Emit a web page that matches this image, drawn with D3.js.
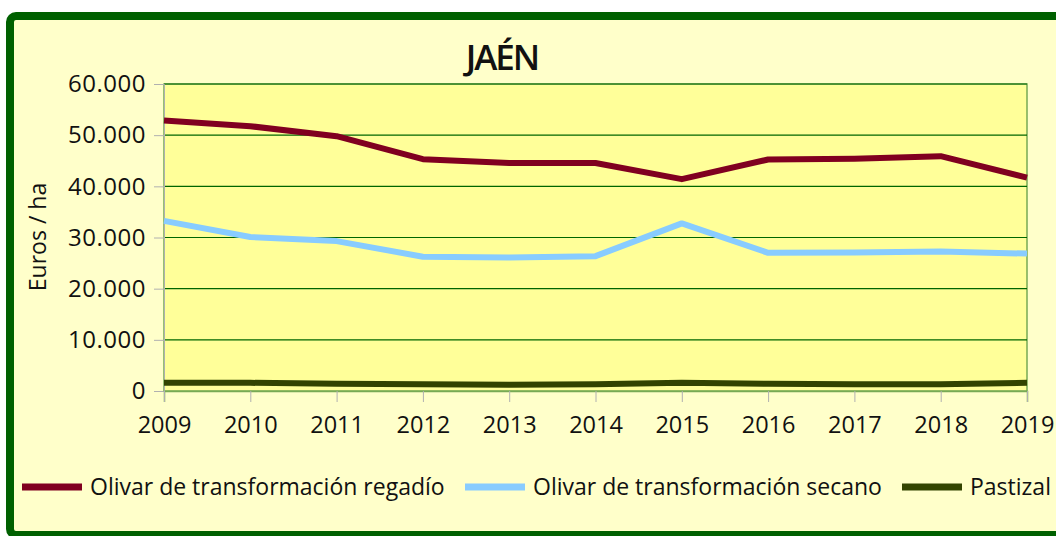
<!DOCTYPE html>
<meta charset="utf-8">
<head>
<title>JAÉN - Euros / ha</title>
<script type="text/javascript" src="https://cdn.jsdelivr.net/npm/d3@7"></script>
<style>
    body { margin: 0; background: #fff; }
    text { font-family: "Open Sans", "DejaVu Sans", sans-serif; fill: #111; }
</style>
</head>
<body>
<div id="chart"></div>
<script>
    // data
    var years = [2009, 2010, 2011, 2012, 2013, 2014, 2015, 2016, 2017, 2018, 2019];
    var regadio = [52850, 51750, 49800, 45300, 44550, 44550, 41400, 45250, 45400, 45900, 41700];
    var secano = [33250, 30100, 29300, 26250, 26100, 26350, 32750, 27000, 27050, 27250, 26850];
    var pastizal = [1600, 1600, 1400, 1300, 1200, 1300, 1600, 1400, 1300, 1300, 1600];
    var seriesNames = ["Olivar de transformación regadío", "Olivar de transformación secano", "Pastizal"];
    var yTicks = [0, 10000, 20000, 30000, 40000, 50000, 60000];

    var width = 1056, height = 536;
    var margin = {top: 84, right: 29, bottom: 145, left: 164};

    var svg = d3.select("#chart").append("svg")
        .attr("width", width)
        .attr("height", height);

    // outer frame
    svg.append("rect")
        .attr("x", 10).attr("y", 16)
        .attr("width", 1100).attr("height", 519)
        .attr("rx", 6)
        .attr("fill", "#ffffca")
        .attr("stroke", "#006000")
        .attr("stroke-width", 8);

    var x = d3.scaleLinear()
        .domain([2009, 2019])
        .range([margin.left, width - margin.right]);
    var y = d3.scaleLinear()
        .domain([0, 60000])
        .range([height - margin.bottom, margin.top]);

    // plot area
    svg.append("rect")
        .attr("x", x(2009)).attr("y", y(60000))
        .attr("width", x(2019) - x(2009)).attr("height", y(0) - y(60000))
        .attr("fill", "#ffff99")
        .attr("stroke", "#77aa55")
        .attr("stroke-width", 1.5);

    // gridlines
    svg.append("g").selectAll("line")
        .data(yTicks.slice(1))
        .enter().append("line")
        .attr("x1", x(2009)).attr("x2", x(2019))
        .attr("y1", d => y(d)).attr("y2", d => y(d))
        .attr("stroke", "#006600").attr("stroke-width", 1.2);

    var fmt = d => d === 0 ? "0" : d3.format(",")(d).replace(/,/g, ".");

    var yAxis = svg.append("g")
        .attr("transform", "translate(" + x(2009) + ",0)")
        .call(d3.axisLeft(y).tickValues(yTicks).tickFormat(fmt).tickSize(10).tickPadding(8));
    yAxis.select(".domain").attr("stroke", "#b0b0b0");
    yAxis.selectAll(".tick line").attr("stroke", "#b0b0b0");
    yAxis.selectAll("text").style("font-size", "24px").style("letter-spacing", "0.5px").attr("fill", "#111");

    var xAxis = svg.append("g")
        .attr("transform", "translate(0," + y(0) + ")")
        .call(d3.axisBottom(x).tickValues(years).tickFormat(d3.format("d")).tickSize(11).tickPadding(14));
    xAxis.select(".domain").attr("stroke", "#77aa55").attr("stroke-width", 1.5);
    xAxis.selectAll(".tick line").attr("stroke", "#b0b0b0");
    xAxis.selectAll("text").style("font-size", "23.5px").attr("fill", "#111");

    // lines
    var line = d3.line()
        .x((d, i) => x(years[i]))
        .y(d => y(d));

    var colors = ["#800020", "#88ccff", "#334400"];
    var data = [regadio, secano, pastizal];

    svg.append("g").selectAll("path")
        .data(data)
        .enter().append("path")
        .attr("d", line)
        .attr("fill", "none")
        .attr("stroke", (d, i) => colors[i])
        .attr("stroke-width", 6)
        .attr("stroke-linejoin", "round");

    // title
    svg.append("text")
        .attr("x", 502).attr("y", 70)
        .attr("text-anchor", "middle")
        .style("font-size", "35px")
        .style("font-weight", "600")
        .style("letter-spacing", "-2px")
        .text("JAÉN");

    // y axis title
    svg.append("text")
        .attr("transform", "translate(46,237) rotate(-90)")
        .attr("text-anchor", "middle")
        .style("font-size", "23px")
        .text("Euros / ha");

    // legend
    var legendX = [22, 465, 902];
    var legend = svg.append("g").selectAll("g")
        .data(seriesNames)
        .enter().append("g")
        .attr("transform", (d, i) => "translate(" + legendX[i] + ",487)");
    legend.append("line")
        .attr("x1", 0).attr("x2", 60)
        .attr("stroke", (d, i) => colors[i])
        .attr("stroke-width", 7);
    legend.append("text")
        .attr("x", 68).attr("y", 8)
        .style("font-size", "23px")
        .text(d => d);
</script>
</body>
</html>
